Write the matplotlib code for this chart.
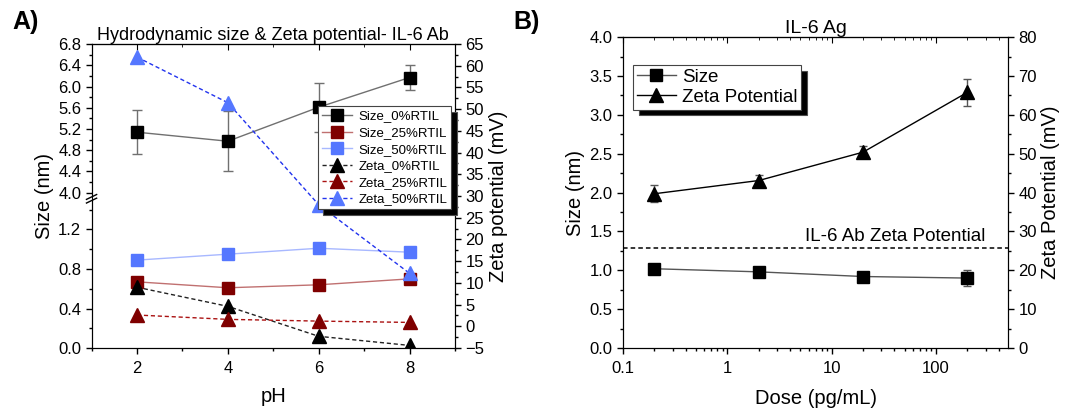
import numpy as np
import matplotlib
matplotlib.use('Agg')
from matplotlib import pyplot as plt
from matplotlib.ticker import FixedLocator, MultipleLocator, LogLocator, NullFormatter, FixedFormatter

plt.rcParams['font.family'] = ['Liberation Sans', 'DejaVu Sans']

# dados do painel A (IL-6 Ab)
pH = [2, 4, 6, 8]
size0 = [5.14, 4.97, 5.61, 6.17]
size0Err = [0.41, 0.56, 0.46, 0.24]
size25 = [0.67, 0.61, 0.64, 0.70]
size50 = [0.89, 0.95, 1.01, 0.97]
zeta0 = [9.0, 4.6, -2.3, -4.4]
zeta25 = [2.6, 1.6, 1.2, 0.9]
zeta50 = [62.0, 51.5, 28.0, 12.2]
sizeTicksA = [0.0, 0.4, 0.8, 1.2, 4.0, 4.4, 4.8, 5.2, 5.6, 6.0, 6.4, 6.8]
sizeMinorA = [0.2, 0.6, 1.0, 1.4, 4.2, 4.6, 5.0, 5.4, 5.8, 6.2, 6.6]

# dados do painel B (IL-6 Ag)
dose = [0.2, 2, 20, 200]
sizeAg = [1.02, 0.98, 0.92, 0.90]
sizeAgErr = [0.03, 0.03, 0.03, 0.10]
zetaAg = [39.7, 43.1, 50.4, 65.8]
zetaAgErr = [2.2, 1.5, 1.6, 3.4]
zetaAb = 25.8

# escala quebrada do eixo de tamanho (0-1.5 embaixo, 3.9-6.8 em cima)
brkIn = [-10, 0, 1.5, 3.9, 6.8, 20]
brkOut = [-3.25, 0, 0.4875, 0.4935, 1.0, 3.31]

def fwd(v):
    return np.interp(v, brkIn, brkOut)

def inv(v):
    return np.interp(v, brkOut, brkIn)

blue = '#5577ff'
red = '#7f0000'
tickKw = dict(labelsize=12, width=1)
labelFs = 14.5

def ticks(a, pad=3.5):
    a.tick_params(which='both', direction='out', pad=pad, **tickKw)
    a.tick_params(which='major', length=4)
    a.tick_params(which='minor', length=2.5)

fig = plt.figure(figsize=(10.67, 4.08), dpi=100)

# ---------------- painel A ----------------
ax = fig.add_axes([0.0858, 0.147, 0.3406, 0.745])
ax.set_yscale('function', functions=(fwd, inv))
ax.errorbar(pH, size0, yerr=size0Err, fmt='none', ecolor='#707070',
            elinewidth=1, capsize=3.5, zorder=2)
ax.plot(pH, size0, color='#707070', lw=1, marker='s', ms=9, mfc='black', mec='black',
        label='Size_0%RTIL', zorder=3)
ax.plot(pH, size25, color='#c07070', lw=1, marker='s', ms=9, mfc=red, mec=red,
        label='Size_25%RTIL', zorder=3)
ax.plot(pH, size50, color='#a8b8ff', lw=1, marker='s', ms=9, mfc=blue, mec=blue,
        label='Size_50%RTIL', zorder=3)
ax.set_xlim(1, 9)
ax.set_ylim(0, 6.8)
ax.yaxis.set_major_locator(FixedLocator(sizeTicksA))
ax.yaxis.set_major_formatter(FixedFormatter(['%.1f' % t for t in sizeTicksA]))
ax.yaxis.set_minor_locator(FixedLocator(sizeMinorA))
ax.xaxis.set_major_locator(MultipleLocator(2))
ax.xaxis.set_minor_locator(MultipleLocator(1))
ticks(ax)
ax.tick_params(axis='x', pad=5.5)
ax.set_xlabel('pH', fontsize=labelFs, labelpad=8)
ax.set_ylabel('Size (nm)', fontsize=labelFs, labelpad=3)
ax.set_title('Hydrodynamic size & Zeta potential- IL-6 Ab', fontsize=13, pad=3)

topA = ax.secondary_xaxis('top')
topA.xaxis.set_major_locator(MultipleLocator(2))
topA.xaxis.set_minor_locator(MultipleLocator(1))
topA.tick_params(which='both', direction='in', labeltop=False)
topA.tick_params(which='major', length=4)
topA.tick_params(which='minor', length=2.5)

# marcas de quebra no eixo esquerdo
brk = 0.491
ax.plot([-0.003, 0.003], [brk - 0.004, brk + 0.004], color='white', lw=3,
        transform=ax.transAxes, clip_on=False, zorder=5)
for d in [-0.006, 0.006]:
    ax.plot([-0.014, 0.014], [brk + d - 0.008, brk + d + 0.008], color='black', lw=1,
            transform=ax.transAxes, clip_on=False, zorder=6)

axr = ax.twinx()
axr.plot(pH, zeta0, color='#222222', lw=1, ls=(0, (3, 2)), marker='^', ms=10,
         mfc='black', mec='black', label='Zeta_0%RTIL')
axr.plot(pH, zeta25, color='#aa1111', lw=1, ls=(0, (3, 2)), marker='^', ms=10,
         mfc=red, mec=red, label='Zeta_25%RTIL')
axr.plot(pH, zeta50, color='#2233ee', lw=1, ls=(0, (3, 2)), marker='^', ms=10,
         mfc=blue, mec=blue, label='Zeta_50%RTIL')
axr.set_ylim(-5, 65)
axr.yaxis.set_major_locator(MultipleLocator(5))
axr.yaxis.set_minor_locator(MultipleLocator(2.5))
ticks(axr)
axr.set_ylabel('Zeta potential (mV)', fontsize=labelFs, labelpad=3)

h1, l1 = ax.get_legend_handles_labels()
h2, l2 = axr.get_legend_handles_labels()
legA = axr.legend(h1 + h2, l1 + l2, loc='upper right', bbox_to_anchor=(0.99, 0.795),
                  fontsize=9.5, frameon=True, fancybox=False, edgecolor='#444444',
                  framealpha=1, borderaxespad=0, handlelength=2.3, labelspacing=0.33,
                  borderpad=0.3, handletextpad=0.5,
                  shadow={'ox': 4, 'oy': -4, 'facecolor': 'black', 'alpha': 1})
legA.get_frame().set_linewidth(0.8)

fig.text(0.012, 0.93, 'A)', fontsize=18, fontweight='bold')

# ---------------- painel B ----------------
bx = fig.add_axes([0.5839, 0.147, 0.3608, 0.762])
bx.set_xscale('log')
bx.errorbar(dose, sizeAg, yerr=sizeAgErr, fmt='none', ecolor='#555555',
            elinewidth=1, capsize=3, zorder=2)
bx.plot(dose, sizeAg, color='#555555', lw=1, marker='s', ms=8, mfc='black', mec='black',
        label='Size', zorder=3)
bx.set_xlim(0.1, 490)
bx.set_ylim(0, 4.0)
bx.yaxis.set_major_locator(MultipleLocator(0.5))
bx.yaxis.set_minor_locator(MultipleLocator(0.25))
bx.xaxis.set_major_locator(LogLocator(base=10))
bx.xaxis.set_minor_locator(LogLocator(base=10, subs=np.arange(2, 10)))
bx.xaxis.set_minor_formatter(NullFormatter())
bx.xaxis.set_major_formatter(plt.FuncFormatter(lambda v, p: '%g' % v))
ticks(bx)
bx.tick_params(axis='x', pad=5.5)
bx.set_xlabel('Dose (pg/mL)', fontsize=labelFs, labelpad=9)
bx.set_ylabel('Size (nm)', fontsize=labelFs, labelpad=3)
bx.set_title('IL-6 Ag', fontsize=14, pad=3)

topB = bx.secondary_xaxis('top')
topB.tick_params(which='both', direction='in', labeltop=False)
topB.tick_params(which='major', length=4)
topB.tick_params(which='minor', length=2.5)

bxr = bx.twinx()
bxr.errorbar(dose, zetaAg, yerr=zetaAgErr, fmt='none', ecolor='#555555',
             elinewidth=1, capsize=3)
bxr.plot(dose, zetaAg, color='black', lw=1, marker='^', ms=10, mfc='black', mec='black',
         label='Zeta Potential')
bxr.axhline(zetaAb, color='black', lw=1.1, ls=(0, (3, 2)))
bxr.text(0.94, zetaAb + 0.8, 'IL-6 Ab Zeta Potential', fontsize=13.5, ha='right',
         va='bottom', transform=bxr.get_yaxis_transform())
bxr.set_ylim(0, 80)
bxr.yaxis.set_major_locator(MultipleLocator(10))
bxr.yaxis.set_minor_locator(MultipleLocator(5))
ticks(bxr)
bxr.set_ylabel('Zeta Potential (mV)', fontsize=labelFs, labelpad=3)

h1, l1 = bx.get_legend_handles_labels()
h2, l2 = bxr.get_legend_handles_labels()
legB = bxr.legend(h1 + h2, l1 + l2, loc='upper left', bbox_to_anchor=(0.026, 0.91),
                  fontsize=13.5, frameon=True, fancybox=False, edgecolor='#444444',
                  framealpha=1, borderaxespad=0, handlelength=2.1, labelspacing=0.15,
                  borderpad=0.2, handletextpad=0.3,
                  shadow={'ox': 4, 'oy': -4, 'facecolor': 'black', 'alpha': 1})
legB.get_frame().set_linewidth(0.8)

fig.text(0.481, 0.93, 'B)', fontsize=18, fontweight='bold')

fig.savefig('out.png', dpi=100)
